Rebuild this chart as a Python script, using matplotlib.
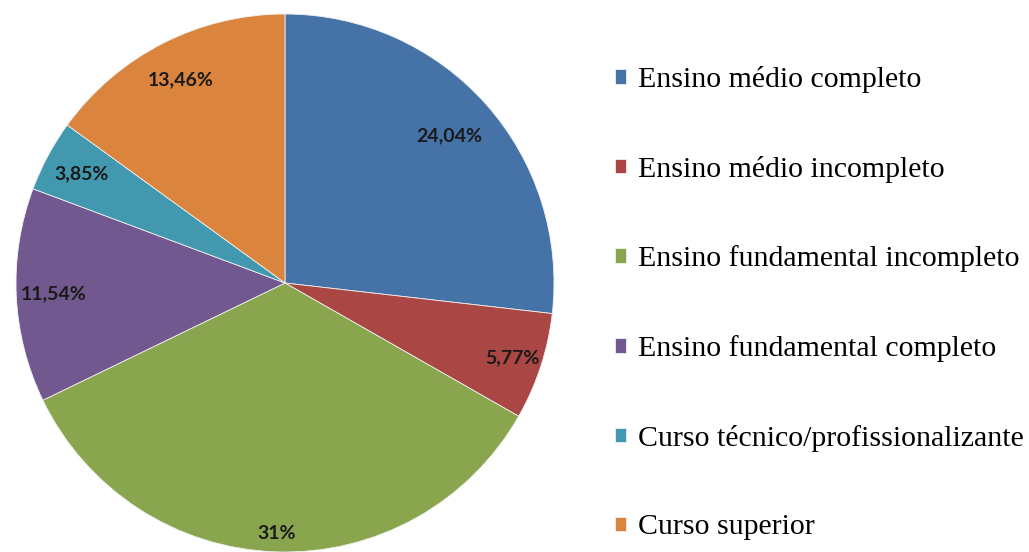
import numpy as np
import matplotlib
matplotlib.use('Agg')
import matplotlib.pyplot as plt

# Escolaridade dos entrevistados
categories = ['Ensino médio completo', 'Ensino médio incompleto',
              'Ensino fundamental incompleto', 'Ensino fundamental completo',
              'Curso técnico/profissionalizante', 'Curso superior']
values = [24.04, 5.77, 31, 11.54, 3.85, 13.46]
value_labels = ['24,04%', '5,77%', '31%', '11,54%', '3,85%', '13,46%']

colors = ['#4572A7', '#AA4643', '#89A54E', '#71588F', '#4198AF', '#DB843D']
label_dist = [0.82, 0.89, 0.93, 0.86, 0.86, 0.85]

fig = plt.figure(figsize=(10.29, 5.52), dpi=100)
ax = fig.add_axes([16 / 1029, 0, 538 / 1029, 538 / 552])

wedges, _ = ax.pie(values, colors=colors, startangle=90, counterclock=False,
                   wedgeprops=dict(edgecolor='#f0f0f0', linewidth=0.6))
ax.set_xlim(-1, 1)
ax.set_ylim(-1, 1)
ax.set_aspect('equal')

# data labels
for w, txt, d in zip(wedges, value_labels, label_dist):
    mid = np.deg2rad((w.theta1 + w.theta2) / 2)
    ax.text(d * np.cos(mid), d * np.sin(mid), txt, ha='center', va='center',
            fontsize=14, fontweight='bold', family='Lato', color='#1a1a1a')

fig.legend(wedges, categories, loc='upper left', bbox_to_anchor=(615 / 1029, 1 - 66 / 552),
           frameon=False, prop=dict(family='Liberation Serif', size=21.5),
           handlelength=0.37, handleheight=0.37, handletextpad=0.4,
           labelspacing=2.1, borderpad=0, borderaxespad=0)

fig.savefig('out.png', dpi=100)
